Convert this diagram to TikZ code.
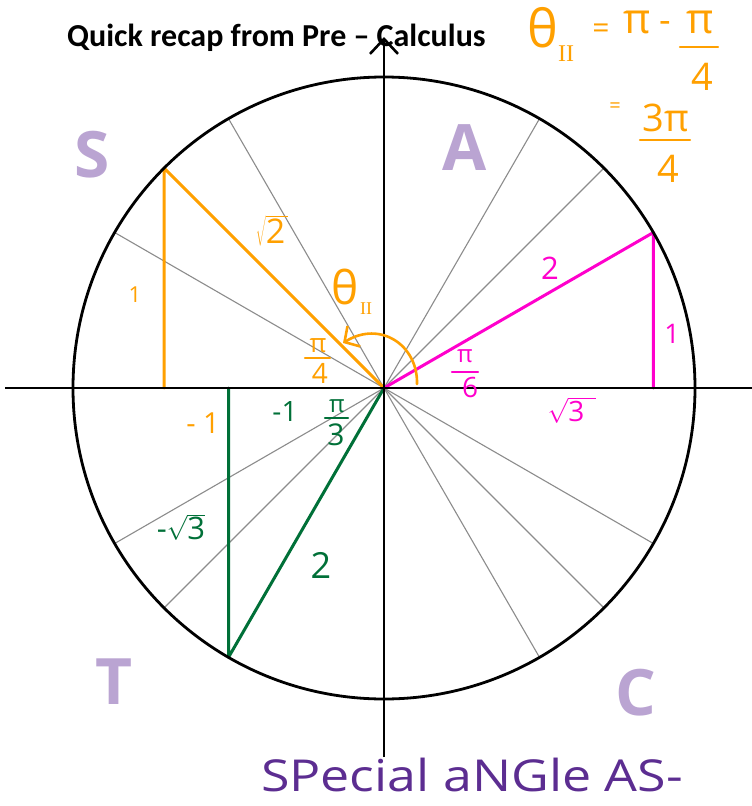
\documentclass[tikz,border=0pt]{standalone}
\usepackage{fontspec}
\setmainfont{Open Sans}
\newfontfamily\titlefont{Carlito}
\newfontfamily\romfont{Liberation Serif}
\usetikzlibrary{arrows.meta,calc}
\definecolor{orng}{RGB}{255,160,0}
\definecolor{pnk}{RGB}{255,0,204}
\definecolor{grn}{RGB}{0,112,56}
\definecolor{lpurp}{RGB}{186,164,210}
\definecolor{dpurp}{RGB}{92,45,145}
\definecolor{spkgray}{RGB}{140,140,140}
\begin{document}
\begin{tikzpicture}[x=1pt,y=-1pt,
  spoke/.style={draw=spkgray,line width=1.1pt},
  axisline/.style={line width=2.6pt,draw=black},
  tri/.style={line width=3pt,line join=round,line cap=round},
  lbl/.style={inner sep=0pt,font=\fontsize{#1}{#1}\selectfont},
  bar/.style={line width=2.2pt,line cap=round},
  quad/.style={inner sep=0pt,text=lpurp,font=\fontsize{64}{64}\selectfont\bfseries}]
\useasboundingbox (0,0) rectangle (752,806);
\fill[white] (0,0) rectangle (752,806);
\coordinate (c) at (384,388);
% spokes
\foreach \a in {30,45,60,120,135,150,210,225,240,300,315,330}
  \draw[spoke] (c) -- ++(-\a:311);
% triangles
\coordinate (o1) at ($(c)+(-135:311)$);
\coordinate (o2) at (o1 |- c);
\coordinate (p1) at ($(c)+(-30:311)$);
\coordinate (p2) at (p1 |- c);
\coordinate (g1) at ($(c)+(-240:311)$);
\coordinate (g2) at (g1 |- c);
\draw[tri,orng] (c) -- (o1) -- (o2);
\draw[tri,pnk] (c) -- (p1) -- (p2);
\draw[tri,grn] (c) -- (g1) -- (g2);
% axes and circle
\coordinate (xl) at (5,388);
\coordinate (xr) at (752,388);
\coordinate (yb) at (384,757);
\coordinate (yt) at (384,37);
\draw[axisline] (xl) -- (xr);
\draw[axisline,-{Straight Barb[length=15pt,width=28pt]}] (yb) -- (yt);
\draw[line width=2.8pt] (c) circle[radius=311];
% orange angle arrow
\coordinate (a1) at (417,384);
\coordinate (a2) at (343,343);
\draw[orng,line width=2.6pt,line cap=round,-{Straight Barb[length=11pt,width=24pt]}] (a1) .. controls (418,345) and (380,320) .. (a2);
% title
\node[anchor=base west,inner sep=0pt,font=\titlefont\fontsize{32}{32}\selectfont\bfseries] (title) at (67,46) {Quick recap from Pre – Calculus};
% quadrant letters
\node[quad] (qS) at (92,155) {S};
\node[quad] (qA) at (465,148) {A};
\node[quad] (qT) at (114,682) {T};
\node[quad] (qC) at (636,693) {C};
% top right formula
\node[lbl=52,text=orng] (th) at (543,28) {θ};
\node[lbl=24,text=orng,font=\romfont\fontsize{24}{24}\selectfont] (thsub) at (566,54) {II};
\node[lbl=30,text=orng] (eq1) at (601,31) {=};
\node[lbl=42,text=orng] (pi1) at (637,22) {π};
\node[lbl=36,text=orng] (mn1) at (665,27) {-};
\node[lbl=42,text=orng] (pi2) at (700,22) {π};
\draw[orng,bar] (680,47) -- (718,47);
\node[lbl=38,text=orng] (d4a) at (702,77) {4};
\node[lbl=20,text=orng] (eq2) at (615,108) {=};
\node[lbl=38,text=orng] (tpi) at (666,118) {3π};
\draw[orng,bar] (640,140) -- (690,140);
\node[lbl=38,text=orng] (d4b) at (668,169) {4};
% orange labels
\node[lbl=34,text=orng] (sq2) at (272,231) {$\sqrt{\mbox{2}\hspace{3pt}}$};
\node[lbl=22,text=orng] (o1lbl) at (135,295) {1};
\node[lbl=46,text=orng] (th2) at (345,287) {θ};
\node[lbl=18,text=orng,font=\romfont\fontsize{18}{18}\selectfont] (th2sub) at (366,309) {II};
\node[lbl=26,text=orng] (pi4n) at (318,346) {π};
\draw[orng,bar] (305,358) -- (330,358);
\node[lbl=28,text=orng] (pi4d) at (320,373) {4};
\node[lbl=29,text=orng] (om1) at (203,423) {- 1};
% green labels
\node[lbl=28,text=grn] (gm1) at (285,412) {-1};
\node[lbl=24,text=grn] (pi3n) at (337,406) {π};
\draw[grn,bar] (325,418) -- (348,418);
\node[lbl=30,text=grn] (pi3d) at (336,435) {3};
\node[lbl=31,text=grn] (gs3) at (181,527) {-$\sqrt{\mbox{3}}$};
\node[lbl=36,text=grn] (g2lbl) at (321,565) {2};
% pink labels
\node[lbl=31,text=pnk] (p2lbl) at (550,268) {2};
\node[lbl=27,text=pnk] (p1lbl) at (672,334) {1};
\node[lbl=24,text=pnk] (pi6n) at (465,356) {π};
\draw[pnk,bar] (452,372) -- (478,372);
\node[lbl=28,text=pnk] (pi6d) at (470,387) {6};
\node[lbl=28,text=pnk] (ps3) at (572,410) {$\sqrt{\mbox{3}\hspace{12pt}}$};
% bottom text
\node[lbl=44,text=dpurp,xscale=1.18] (bottom) at (472,775) {SPecial aNGle AS-};
\end{tikzpicture}
\end{document}
